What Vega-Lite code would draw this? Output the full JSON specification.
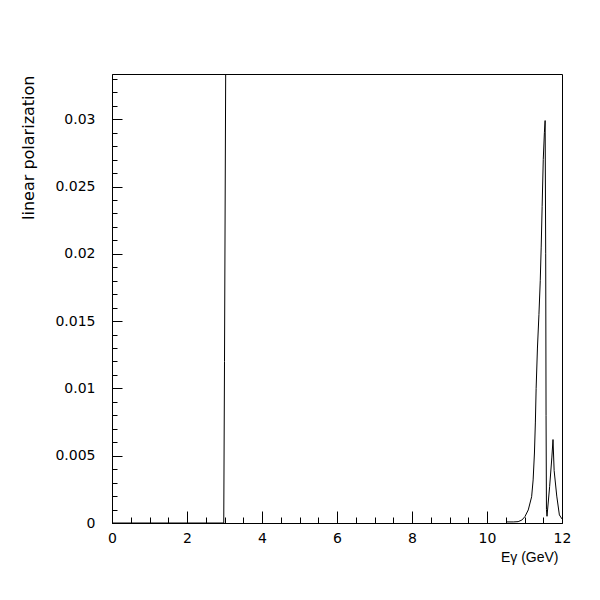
{
  "$schema": "https://vega.github.io/schema/vega-lite/v6.json",
  "width": 450,
  "height": 449,
  "autosize": "none",
  "padding": {"left": 112, "top": 74, "right": 38, "bottom": 77},
  "background": "white",
  "config": {
    "view": {"stroke": "black", "strokeWidth": 1},
    "axis": {
      "grid": false,
      "domainColor": "black",
      "tickColor": "black",
      "tickWidth": 1,
      "labelColor": "black",
      "labelFont": "DejaVu Sans",
      "labelFontSize": 14,
      "labelFlush": false,
      "labelOverlap": false,
      "titleColor": "black",
      "titleFontWeight": "normal"
    }
  },
  "data": {
    "values": [
      {"segment": "a", "E": 0, "P": 0},
      {"segment": "a", "E": 2.98, "P": 0},
      {"segment": "a", "E": 3.0, "P": 0.012},
      {"segment": "a", "E": 3.035, "P": 0.036},
      {"segment": "b", "E": 10.52, "P": 0.00008},
      {"segment": "b", "E": 10.7, "P": 0.00008},
      {"segment": "b", "E": 10.83, "P": 0.0001},
      {"segment": "b", "E": 10.93, "P": 0.00022},
      {"segment": "b", "E": 11.01, "P": 0.00047},
      {"segment": "b", "E": 11.1, "P": 0.00097},
      {"segment": "b", "E": 11.19, "P": 0.00195},
      {"segment": "b", "E": 11.23, "P": 0.0032},
      {"segment": "b", "E": 11.265, "P": 0.0052},
      {"segment": "b", "E": 11.29, "P": 0.0075},
      {"segment": "b", "E": 11.31, "P": 0.01},
      {"segment": "b", "E": 11.345, "P": 0.013},
      {"segment": "b", "E": 11.385, "P": 0.0155},
      {"segment": "b", "E": 11.42, "P": 0.018},
      {"segment": "b", "E": 11.445, "P": 0.0205},
      {"segment": "b", "E": 11.47, "P": 0.0235},
      {"segment": "b", "E": 11.5, "P": 0.027},
      {"segment": "b", "E": 11.53, "P": 0.029},
      {"segment": "b", "E": 11.55, "P": 0.0299},
      {"segment": "b", "E": 11.565, "P": 0.02},
      {"segment": "b", "E": 11.575, "P": 0.008},
      {"segment": "b", "E": 11.585, "P": 0.001},
      {"segment": "b", "E": 11.6, "P": 0.0005},
      {"segment": "b", "E": 11.67, "P": 0.0027},
      {"segment": "b", "E": 11.73, "P": 0.0049},
      {"segment": "b", "E": 11.76, "P": 0.0062},
      {"segment": "b", "E": 11.79, "P": 0.0039},
      {"segment": "b", "E": 11.86, "P": 0.002},
      {"segment": "b", "E": 11.93, "P": 0.0006},
      {"segment": "b", "E": 12.0, "P": 0.0003}
    ]
  },
  "mark": {"type": "line", "color": "black", "strokeWidth": 1, "clip": true},
  "encoding": {
    "x": {
      "field": "E",
      "type": "quantitative",
      "scale": {"domain": [0, 12], "nice": false, "zero": false},
      "axis": {
        "title": "Eγ (GeV)",
        "values": [0, 0.5, 1, 1.5, 2, 2.5, 3, 3.5, 4, 4.5, 5, 5.5, 6, 6.5, 7, 7.5, 8, 8.5, 9, 9.5, 10, 10.5, 11, 11.5, 12],
        "format": "~g",
        "labelExpr": "datum.value % 2 === 0 ? datum.label : ''",
        "tickSize": {"condition": {"test": "datum.value % 2 === 0", "value": -12}, "value": -6},
        "labelPadding": 20,
        "titleFont": "Liberation Sans",
        "titleFontSize": 14,
        "titleAlign": "right",
        "titleBaseline": "alphabetic",
        "titleX": 446,
        "titleY": 38
      }
    },
    "y": {
      "field": "P",
      "type": "quantitative",
      "scale": {"domain": [0, 0.03336], "nice": false},
      "axis": {
        "title": "linear polarization",
        "values": [0, 0.001, 0.002, 0.003, 0.004, 0.005, 0.006, 0.007, 0.008, 0.009, 0.01, 0.011, 0.012, 0.013, 0.014, 0.015, 0.016, 0.017, 0.018, 0.019, 0.02, 0.021, 0.022, 0.023, 0.024, 0.025, 0.026, 0.027, 0.028, 0.029, 0.03, 0.031, 0.032, 0.033],
        "format": "~g",
        "labelExpr": "round(datum.value * 1000) % 5 === 0 ? datum.label : ''",
        "tickSize": {"condition": {"test": "round(datum.value * 1000) % 5 === 0", "value": -10}, "value": -5},
        "labelPadding": 27,
        "titleFont": "DejaVu Sans",
        "titleFontSize": 16,
        "titleAngle": 270,
        "titleAlign": "right",
        "titleBaseline": "alphabetic",
        "titleX": -79,
        "titleY": 1
      }
    },
    "detail": {"field": "segment", "type": "nominal"}
  }
}
